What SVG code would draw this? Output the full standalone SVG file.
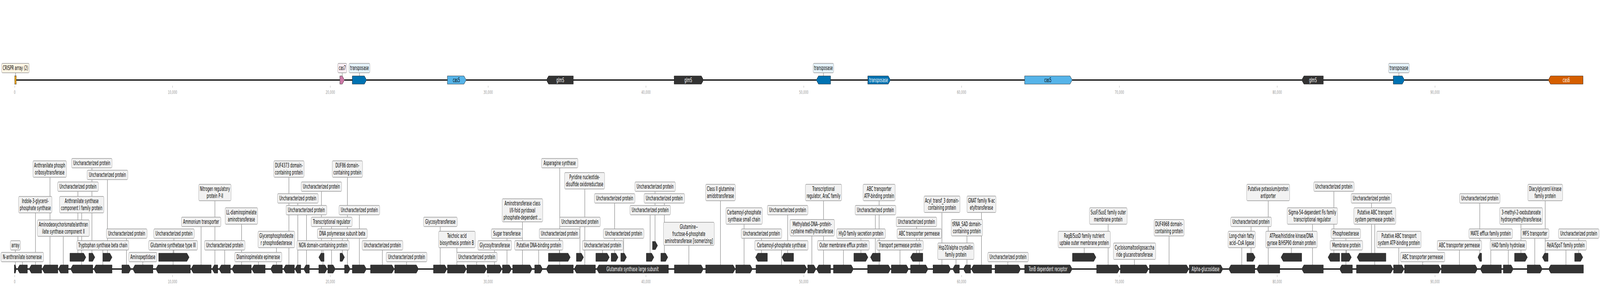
<svg xmlns="http://www.w3.org/2000/svg" width="7825" height="736" viewBox="0 0 7825 736" preserveAspectRatio="none" style="width:100vw;height:100vh;display:block">
<style>
.g{fill:#333333;stroke:#1a1a1a;stroke-width:1}
.b{fill:#f2f2f2;stroke:#999999;stroke-width:1.3}
.t{font-family:"DejaVu Sans",sans-serif;font-size:15px;fill:#000000;text-anchor:middle}
.w{fill:#ffffff}
.ln{stroke:#333333;stroke-width:0.9}
.bb{stroke:#000000;stroke-width:3}
.tk{stroke:#aaaaaa;stroke-width:1}
.tl{font-family:"DejaVu Sans",sans-serif;font-size:13px;fill:#999999;text-anchor:middle}
</style>
<rect x="0" y="0" width="7825" height="736" fill="#ffffff"/>
<g id="axes">
<line class="bb" x1="72" y1="204.5" x2="7742" y2="204.5"/>
<line class="bb" x1="70" y1="687.5" x2="7744" y2="687.5"/>
<g id="top-ticks">
<line class="tk" x1="72" y1="219" x2="72" y2="224"/><text class="tl" x="72" y="240">0</text>
<line class="tk" x1="843.8" y1="219" x2="843.8" y2="224"/><text class="tl" x="843.8" y="240">10,000</text>
<line class="tk" x1="1615.6" y1="219" x2="1615.6" y2="224"/><text class="tl" x="1615.6" y="240">20,000</text>
<line class="tk" x1="2387.4" y1="219" x2="2387.4" y2="224"/><text class="tl" x="2387.4" y="240">30,000</text>
<line class="tk" x1="3159.2" y1="219" x2="3159.2" y2="224"/><text class="tl" x="3159.2" y="240">40,000</text>
<line class="tk" x1="3931" y1="219" x2="3931" y2="224"/><text class="tl" x="3931" y="240">50,000</text>
<line class="tk" x1="4702.8" y1="219" x2="4702.8" y2="224"/><text class="tl" x="4702.8" y="240">60,000</text>
<line class="tk" x1="5474.6" y1="219" x2="5474.6" y2="224"/><text class="tl" x="5474.6" y="240">70,000</text>
<line class="tk" x1="6246.4" y1="219" x2="6246.4" y2="224"/><text class="tl" x="6246.4" y="240">80,000</text>
<line class="tk" x1="7018.2" y1="219" x2="7018.2" y2="224"/><text class="tl" x="7018.2" y="240">90,000</text>
</g>
<g id="bottom-ticks">
<line class="tk" x1="72" y1="703" x2="72" y2="708"/><text class="tl" x="72" y="724">0</text>
<line class="tk" x1="843.8" y1="703" x2="843.8" y2="708"/><text class="tl" x="843.8" y="724">10,000</text>
<line class="tk" x1="1615.6" y1="703" x2="1615.6" y2="708"/><text class="tl" x="1615.6" y="724">20,000</text>
<line class="tk" x1="2387.4" y1="703" x2="2387.4" y2="708"/><text class="tl" x="2387.4" y="724">30,000</text>
<line class="tk" x1="3159.2" y1="703" x2="3159.2" y2="708"/><text class="tl" x="3159.2" y="724">40,000</text>
<line class="tk" x1="3931" y1="703" x2="3931" y2="708"/><text class="tl" x="3931" y="724">50,000</text>
<line class="tk" x1="4702.8" y1="703" x2="4702.8" y2="708"/><text class="tl" x="4702.8" y="724">60,000</text>
<line class="tk" x1="5474.6" y1="703" x2="5474.6" y2="708"/><text class="tl" x="5474.6" y="724">70,000</text>
<line class="tk" x1="6246.4" y1="703" x2="6246.4" y2="708"/><text class="tl" x="6246.4" y="724">80,000</text>
<line class="tk" x1="7018.2" y1="703" x2="7018.2" y2="708"/><text class="tl" x="7018.2" y="724">90,000</text>
</g>
</g>
<g id="connectors">
<line class="ln" x1="76" y1="186" x2="76" y2="194"/>
<line class="ln" x1="1673.5" y1="186" x2="1673.5" y2="194"/>
<line class="ln" x1="1758" y1="186" x2="1758" y2="194"/>
<line class="ln" x1="4027" y1="186" x2="4027" y2="194"/>
<line class="ln" x1="6841.5" y1="186" x2="6841.5" y2="194"/>
<line class="ln" x1="75" y1="639" x2="75" y2="677"/>
<line class="ln" x1="109.5" y1="669" x2="109.5" y2="677"/>
<line class="ln" x1="173.5" y1="544" x2="173.5" y2="677"/>
<line class="ln" x1="244.5" y1="453" x2="244.5" y2="677"/>
<line class="ln" x1="309.5" y1="604" x2="309.5" y2="677"/>
<line class="ln" x1="399.5" y1="544" x2="399.5" y2="677"/>
<line class="ln" x1="503" y1="639" x2="503" y2="677"/>
<line class="ln" x1="618.5" y1="609" x2="618.5" y2="677"/>
<line class="ln" x1="698.5" y1="669" x2="698.5" y2="677"/>
<line class="ln" x1="846.5" y1="639" x2="846.5" y2="677"/>
<line class="ln" x1="983.5" y1="579" x2="983.5" y2="677"/>
<line class="ln" x1="1051" y1="513" x2="1051" y2="677"/>
<line class="ln" x1="1099" y1="639" x2="1099" y2="677"/>
<line class="ln" x1="1181.5" y1="573" x2="1181.5" y2="677"/>
<line class="ln" x1="1264" y1="669" x2="1264" y2="677"/>
<line class="ln" x1="1352" y1="633" x2="1352" y2="677"/>
<line class="ln" x1="1413" y1="453" x2="1413" y2="677"/>
<line class="ln" x1="1456.5" y1="519" x2="1456.5" y2="677"/>
<line class="ln" x1="1499" y1="549" x2="1499" y2="677"/>
<line class="ln" x1="1579.5" y1="639" x2="1579.5" y2="677"/>
<line class="ln" x1="1621.5" y1="579" x2="1621.5" y2="677"/>
<line class="ln" x1="1699" y1="453" x2="1699" y2="677"/>
<line class="ln" x1="1757.5" y1="549" x2="1757.5" y2="677"/>
<line class="ln" x1="1870" y1="639" x2="1870" y2="677"/>
<line class="ln" x1="1988.5" y1="669" x2="1988.5" y2="677"/>
<line class="ln" x1="2153" y1="579" x2="2153" y2="677"/>
<line class="ln" x1="2234.5" y1="633" x2="2234.5" y2="677"/>
<line class="ln" x1="2331.5" y1="669" x2="2331.5" y2="677"/>
<line class="ln" x1="2418.5" y1="639" x2="2418.5" y2="677"/>
<line class="ln" x1="2479.5" y1="609" x2="2479.5" y2="677"/>
<line class="ln" x1="2555" y1="567" x2="2555" y2="677"/>
<line class="ln" x1="2634.5" y1="639" x2="2634.5" y2="677"/>
<line class="ln" x1="2737.5" y1="429" x2="2737.5" y2="677"/>
<line class="ln" x1="2860" y1="483" x2="2860" y2="677"/>
<line class="ln" x1="3369" y1="627" x2="3369" y2="677"/>
<line class="ln" x1="3523.5" y1="513" x2="3523.5" y2="677"/>
<line class="ln" x1="3639" y1="573" x2="3639" y2="677"/>
<line class="ln" x1="3822" y1="639" x2="3822" y2="677"/>
<line class="ln" x1="3970.5" y1="603" x2="3970.5" y2="677"/>
<line class="ln" x1="4027.5" y1="513" x2="4027.5" y2="677"/>
<line class="ln" x1="4125" y1="639" x2="4125" y2="677"/>
<line class="ln" x1="4299.5" y1="513" x2="4299.5" y2="677"/>
<line class="ln" x1="4401.5" y1="639" x2="4401.5" y2="677"/>
<line class="ln" x1="4496" y1="609" x2="4496" y2="677"/>
<line class="ln" x1="4606.5" y1="543" x2="4606.5" y2="677"/>
<line class="ln" x1="4675.5" y1="663" x2="4675.5" y2="677"/>
<line class="ln" x1="4729" y1="603" x2="4729" y2="677"/>
<line class="ln" x1="4800" y1="543" x2="4800" y2="677"/>
<line class="ln" x1="4929" y1="669" x2="4929" y2="677"/>
<line class="ln" x1="5419.5" y1="573" x2="5419.5" y2="677"/>
<line class="ln" x1="5548" y1="663" x2="5548" y2="677"/>
<line class="ln" x1="5717.5" y1="603" x2="5717.5" y2="677"/>
<line class="ln" x1="6073" y1="633" x2="6073" y2="677"/>
<line class="ln" x1="6202.5" y1="513" x2="6202.5" y2="677"/>
<line class="ln" x1="6419" y1="573" x2="6419" y2="677"/>
<line class="ln" x1="6582.5" y1="609" x2="6582.5" y2="677"/>
<line class="ln" x1="6723.5" y1="573" x2="6723.5" y2="677"/>
<line class="ln" x1="6841" y1="633" x2="6841" y2="677"/>
<line class="ln" x1="6958" y1="669" x2="6958" y2="677"/>
<line class="ln" x1="7137.5" y1="639" x2="7137.5" y2="677"/>
<line class="ln" x1="7291" y1="609" x2="7291" y2="677"/>
<line class="ln" x1="7376.5" y1="639" x2="7376.5" y2="677"/>
<line class="ln" x1="7506" y1="609" x2="7506" y2="677"/>
<line class="ln" x1="7658.5" y1="639" x2="7658.5" y2="677"/>
<line class="ln" x1="381" y1="489" x2="381" y2="647"/>
<line class="ln" x1="449.5" y1="429" x2="449.5" y2="647"/>
<line class="ln" x1="525.5" y1="459" x2="525.5" y2="647"/>
<line class="ln" x1="850.5" y1="609" x2="850.5" y2="647"/>
<line class="ln" x1="1572" y1="489" x2="1572" y2="647"/>
<line class="ln" x1="1674" y1="609" x2="1674" y2="647"/>
<line class="ln" x1="2735.5" y1="609" x2="2735.5" y2="647"/>
<line class="ln" x1="2836.5" y1="579" x2="2836.5" y2="647"/>
<line class="ln" x1="2947" y1="639" x2="2947" y2="647"/>
<line class="ln" x1="3006" y1="519" x2="3006" y2="647"/>
<line class="ln" x1="3050" y1="609" x2="3050" y2="647"/>
<line class="ln" x1="3179.5" y1="549" x2="3179.5" y2="647"/>
<line class="ln" x1="3249" y1="519" x2="3249" y2="647"/>
<line class="ln" x1="3724" y1="609" x2="3724" y2="647"/>
<line class="ln" x1="3852.5" y1="549" x2="3852.5" y2="647"/>
<line class="ln" x1="4210.5" y1="609" x2="4210.5" y2="647"/>
<line class="ln" x1="4281" y1="549" x2="4281" y2="647"/>
<line class="ln" x1="4483" y1="579" x2="4483" y2="647"/>
<line class="ln" x1="5302.5" y1="633" x2="5302.5" y2="647"/>
<line class="ln" x1="6118.5" y1="579" x2="6118.5" y2="647"/>
<line class="ln" x1="6315.5" y1="633" x2="6315.5" y2="647"/>
<line class="ln" x1="6523.5" y1="489" x2="6523.5" y2="647"/>
<line class="ln" x1="6584.5" y1="639" x2="6584.5" y2="647"/>
<line class="ln" x1="6707.5" y1="519" x2="6707.5" y2="647"/>
<line class="ln" x1="7237" y1="519" x2="7237" y2="647"/>
<line class="ln" x1="7438.5" y1="573" x2="7438.5" y2="647"/>
<line class="ln" x1="7557" y1="513" x2="7557" y2="647"/>
<line class="ln" x1="7721" y1="609" x2="7721" y2="647"/>
<line class="ln" x1="3203.5" y1="489" x2="3203.5" y2="617"/>
</g>
<g id="top-track">
<g id="t-crispr"><rect x="72" y="194" width="8" height="21" fill="#E69F00" stroke="#333" stroke-width="1"/><rect x="8" y="162" width="135" height="24" rx="4" fill="#FFF6E5" stroke="#999" stroke-width="1.3"/><text class="t" x="75.5" y="179">CRISPR array (2)</text></g>
<g id="t-cas7"><polygon points="1662,194 1674,194 1685,204.5 1674,215 1662,215" fill="#CC79A7" stroke="#333"/><rect x="1652" y="162" width="44" height="24" rx="4" fill="#FAEEF4" stroke="#999" stroke-width="1.3"/><text class="t" x="1674" y="179">cas7</text></g>
<g id="t-transposase1"><polygon points="1723,194 1782,194 1793,204.5 1782,215 1723,215" fill="#0072B2" stroke="#1a1a1a"/><rect x="1707" y="162" width="102" height="24" rx="4" fill="#E6F3FB" stroke="#999" stroke-width="1.3"/><text class="t" x="1758" y="179">transposase</text></g>
<g id="t-cas5a"><polygon points="2188,194 2269,194 2280,204.5 2269,215 2188,215" fill="#56B4E9" stroke="#1a1a1a"/><text class="t" x="2232" y="210">cas5</text></g>
<g id="t-glmS1"><polygon class="g" points="2672,204.5 2683,194 2804,194 2804,215 2683,215"/><text class="t w" x="2740" y="210">glmS</text></g>
<g id="t-glmS2"><polygon class="g" points="3297,194 3430,194 3441,204.5 3430,215 3297,215"/><text class="t w" x="3366" y="210">glmS</text></g>
<g id="t-transposase2"><polygon points="3992,204.5 4003,194 4062,194 4062,215 4003,215" fill="#0072B2" stroke="#1a1a1a"/><rect x="3977" y="162" width="100" height="24" rx="4" fill="#E6F3FB" stroke="#999" stroke-width="1.3"/><text class="t" x="4027" y="179">transposase</text></g>
<g id="t-transposase3"><polygon points="4244,194 4344,194 4355,204.5 4344,215 4244,215" fill="#0072B2" stroke="#1a1a1a"/><text class="t w" x="4297" y="210">transposase</text></g>
<g id="t-cas5b"><polygon points="5011,194 5233,194 5244,204.5 5233,215 5011,215" fill="#56B4E9" stroke="#1a1a1a"/><text class="t" x="5125" y="210">cas5</text></g>
<g id="t-glmS3"><polygon class="g" points="6366,204.5 6377,194 6472,194 6472,215 6377,215"/><text class="t w" x="6421" y="210">glmS</text></g>
<g id="t-transposase4"><polygon points="6814,194 6858,194 6869,204.5 6858,215 6814,215" fill="#0072B2" stroke="#1a1a1a"/><rect x="6791" y="162" width="101" height="24" rx="4" fill="#E6F3FB" stroke="#999" stroke-width="1.3"/><text class="t" x="6841.5" y="179">transposase</text></g>
<g id="t-cas6"><polygon points="7572,204.5 7583,194 7742,194 7742,215 7583,215" fill="#D55E00" stroke="#1a1a1a"/><text class="t w" x="7660" y="210">cas6</text></g>
</g>
<g id="bottom-track">
<g id="b1"><polygon class="g" points="70,677 75,677 80,687.5 75,698 70,698"/><rect class="b" x="51" y="615" width="49" height="24" rx="4"/><text class="t" x="75.5" y="632">array</text></g>
<g id="b2"><polygon class="g" points="85,687.5 96,677 134,677 134,698 96,698"/><rect class="b" x="5" y="645" width="208" height="24" rx="4"/><text class="t" x="109" y="662">N-anthranilate isomerase</text></g>
<g id="b3"><polygon class="g" points="142,687.5 153,677 204,677 204,698 153,698"/><rect class="b" x="91" y="502" width="163" height="42" rx="4"/><text class="t" x="172.5" y="519">Indole-3-glycerol-</text><text class="t" x="172.5" y="537">phosphate synthase</text></g>
<g id="b4"><polygon class="g" points="206,687.5 217,677 283,677 283,698 217,698"/><rect class="b" x="161" y="411" width="164" height="42" rx="4"/><text class="t" x="243" y="428">Anthranilate phosph</text><text class="t" x="243" y="446">oribosyltransferase</text></g>
<g id="b5"><polygon class="g" points="285,687.5 296,677 334,677 334,698 296,698"/><rect class="b" x="183" y="562" width="254" height="42" rx="4"/><text class="t" x="310" y="579">Aminodeoxychorismate/anthran</text><text class="t" x="310" y="597">ilate synthase component II</text></g>
<g id="b6"><polygon class="g" points="345,687.5 356,677 454,677 454,698 356,698"/><rect class="b" x="291" y="502" width="217" height="42" rx="4"/><text class="t" x="399.5" y="519">Anthranilate synthase</text><text class="t" x="399.5" y="537">component I family protein</text></g>
<g id="b7"><polygon class="g" points="458,687.5 469,677 548,677 548,698 469,698"/><rect class="b" x="376" y="615" width="254" height="24" rx="4"/><text class="t" x="503" y="632">Tryptophan synthase beta chain</text></g>
<g id="b8"><polygon class="g" points="596,677 630,677 641,687.5 630,698 596,698"/><rect class="b" x="520" y="585" width="199" height="24" rx="4"/><text class="t" x="619.5" y="602">Uncharacterized protein</text></g>
<g id="b9"><polygon class="g" points="649,687.5 660,677 748,677 748,698 660,698"/><rect class="b" x="630" y="645" width="137" height="24" rx="4"/><text class="t" x="698.5" y="662">Aminopeptidase</text></g>
<g id="b10"><polygon class="g" points="762,687.5 773,677 931,677 931,698 773,698"/><rect class="b" x="727" y="615" width="239" height="24" rx="4"/><text class="t" x="846.5" y="632">Glutamine synthetase type III</text></g>
<g id="b11"><polygon class="g" points="934,687.5 945,677 1033,677 1033,698 945,698"/><rect class="b" x="887" y="555" width="193" height="24" rx="4"/><text class="t" x="983.5" y="572">Ammonium transporter</text></g>
<g id="b12"><polygon class="g" points="1037,687.5 1048,677 1065,677 1065,698 1048,698"/><rect class="b" x="972" y="471" width="158" height="42" rx="4"/><text class="t" x="1051" y="488">Nitrogen regulatory</text><text class="t" x="1051" y="506">protein P-II</text></g>
<g id="b13"><polygon class="g" points="1071,687.5 1082,677 1127,677 1127,698 1082,698"/><rect class="b" x="1000" y="615" width="198" height="24" rx="4"/><text class="t" x="1099" y="632">Uncharacterized protein</text></g>
<g id="b14"><polygon class="g" points="1134,687.5 1145,677 1229,677 1229,698 1145,698"/><rect class="b" x="1101" y="531" width="159" height="42" rx="4"/><text class="t" x="1180.5" y="548">LL-diaminopimelate</text><text class="t" x="1180.5" y="566">aminotransferase</text></g>
<g id="b15"><polygon class="g" points="1231,687.5 1242,677 1297,677 1297,698 1242,698"/><rect class="b" x="1148" y="645" width="230" height="24" rx="4"/><text class="t" x="1263" y="662">Diaminopimelate epimerase</text></g>
<g id="b16"><polygon class="g" points="1323,687.5 1334,677 1381,677 1381,698 1334,698"/><rect class="b" x="1262" y="591" width="179" height="42" rx="4"/><text class="t" x="1351.5" y="608">Glycerophosphodieste</text><text class="t" x="1351.5" y="626">r phosphodiesterase</text></g>
<g id="b17"><polygon class="g" points="1386,687.5 1397,677 1440,677 1440,698 1397,698"/><rect class="b" x="1339" y="411" width="148" height="42" rx="4"/><text class="t" x="1413" y="428">DUF4373 domain-</text><text class="t" x="1413" y="446">containing protein</text></g>
<g id="b18"><polygon class="g" points="1442,687.5 1453,677 1471,677 1471,698 1453,698"/><rect class="b" x="1357" y="495" width="199" height="24" rx="4"/><text class="t" x="1456.5" y="512">Uncharacterized protein</text></g>
<g id="b19"><polygon class="g" points="1485,687.5 1496,677 1513,677 1513,698 1496,698"/><rect class="b" x="1399" y="525" width="199" height="24" rx="4"/><text class="t" x="1498.5" y="542">Uncharacterized protein</text></g>
<g id="b20"><polygon class="g" points="1559,677 1589,677 1600,687.5 1589,698 1559,698"/><rect class="b" x="1452" y="615" width="256" height="24" rx="4"/><text class="t" x="1580" y="632">NGN domain-containing protein</text></g>
<g id="b21"><polygon class="g" points="1603,677 1629,677 1640,687.5 1629,698 1603,698"/><rect class="b" x="1522" y="555" width="200" height="24" rx="4"/><text class="t" x="1622" y="572">Transcriptional regulator</text></g>
<g id="b22"><polygon class="g" points="1685,677 1702,677 1713,687.5 1702,698 1685,698"/><rect class="b" x="1625" y="411" width="148" height="42" rx="4"/><text class="t" x="1699" y="428">DUF86 domain-</text><text class="t" x="1699" y="446">containing protein</text></g>
<g id="b23"><polygon class="g" points="1723,677 1781,677 1792,687.5 1781,698 1723,698"/><rect class="b" x="1658" y="525" width="199" height="24" rx="4"/><text class="t" x="1757.5" y="542">Uncharacterized protein</text></g>
<g id="b24"><polygon class="g" points="1812,677 1917,677 1928,687.5 1917,698 1812,698"/><rect class="b" x="1771" y="615" width="199" height="24" rx="4"/><text class="t" x="1870.5" y="632">Uncharacterized protein</text></g>
<g id="b25"><polygon class="g" points="1930,677 2036,677 2047,687.5 2036,698 1930,698"/><rect class="b" x="1889" y="645" width="199" height="24" rx="4"/><text class="t" x="1988.5" y="662">Uncharacterized protein</text></g>
<g id="b26"><polygon class="g" points="2120,677 2175,677 2186,687.5 2175,698 2120,698"/><rect class="b" x="2071" y="555" width="165" height="24" rx="4"/><text class="t" x="2153.5" y="572">Glycosyltransferase</text></g>
<g id="b27"><polygon class="g" points="2188,677 2270,677 2281,687.5 2270,698 2188,698"/><rect class="b" x="2145" y="591" width="179" height="42" rx="4"/><text class="t" x="2234.5" y="608">Teichoic acid</text><text class="t" x="2234.5" y="626">biosynthesis protein B</text></g>
<g id="b28"><polygon class="g" points="2283,677 2369,677 2380,687.5 2369,698 2283,698"/><rect class="b" x="2233" y="645" width="198" height="24" rx="4"/><text class="t" x="2332" y="662">Uncharacterized protein</text></g>
<g id="b29"><polygon class="g" points="2382,677 2444,677 2455,687.5 2444,698 2382,698"/><rect class="b" x="2337" y="615" width="165" height="24" rx="4"/><text class="t" x="2419.5" y="632">Glycosyltransferase</text></g>
<g id="b30"><polygon class="g" points="2457,677 2491,677 2502,687.5 2491,698 2457,698"/><rect class="b" x="2403" y="585" width="152" height="24" rx="4"/><text class="t" x="2479" y="602">Sugar transferase</text></g>
<g id="b31"><polygon class="g" points="2507,677 2592,677 2603,687.5 2592,698 2507,698"/><rect class="b" x="2456" y="508" width="198" height="59" rx="4"/><text class="t" x="2555" y="525">Aminotransferase class</text><text class="t" x="2555" y="543">I/II-fold pyridoxal</text><text class="t" x="2555" y="561">phosphate-dependent ...</text></g>
<g id="b32"><polygon class="g" points="2615,677 2643,677 2654,687.5 2643,698 2615,698"/><rect class="b" x="2517" y="615" width="236" height="24" rx="4"/><text class="t" x="2635" y="632">Putative DNA-binding protein</text></g>
<g id="b33"><polygon class="g" points="2671,687.5 2682,677 2804,677 2804,698 2682,698"/><rect class="b" x="2648" y="405" width="178" height="24" rx="4"/><text class="t" x="2737" y="422">Asparagine synthase</text></g>
<g id="b34"><polygon class="g" points="2808,687.5 2819,677 2912,677 2912,698 2819,698"/><rect class="b" x="2761" y="441" width="196" height="42" rx="4"/><text class="t" x="2859" y="458">Pyridine nucleotide-</text><text class="t" x="2859" y="476">disulfide oxidoreductase</text></g>
<g id="b35"><polygon class="g" points="2918,687.5 2929,677 3269,677 3269,698 2929,698"/><text class="t w" x="3093.5" y="693">Glutamate synthase large subunit</text></g>
<g id="b36"><polygon class="g" points="3298,677 3429,677 3440,687.5 3429,698 3298,698"/><rect class="b" x="3245" y="568" width="248" height="59" rx="4"/><text class="t" x="3369" y="585">Glutamine--</text><text class="t" x="3369" y="603">fructose-6-phosphate</text><text class="t" x="3369" y="621">aminotransferase [isomerizing]</text></g>
<g id="b37"><polygon class="g" points="3451,677 3585,677 3596,687.5 3585,698 3451,698"/><rect class="b" x="3451" y="471" width="145" height="42" rx="4"/><text class="t" x="3523.5" y="488">Class II glutamine</text><text class="t" x="3523.5" y="506">amidotransferase</text></g>
<g id="b38"><polygon class="g" points="3598,677 3669,677 3680,687.5 3669,698 3598,698"/><rect class="b" x="3550" y="531" width="178" height="42" rx="4"/><text class="t" x="3639" y="548">Carbamoyl-phosphate</text><text class="t" x="3639" y="566">synthase small chain</text></g>
<g id="b39"><polygon class="g" points="3697,677 3936,677 3947,687.5 3936,698 3697,698"/><rect class="b" x="3691" y="615" width="261" height="24" rx="4"/><text class="t" x="3821.5" y="632">Carbamoyl-phosphate synthase</text></g>
<g id="b40"><polygon class="g" points="3950,677 3980,677 3991,687.5 3980,698 3950,698"/><rect class="b" x="3863" y="561" width="218" height="42" rx="4"/><text class="t" x="3972" y="578">Methylated-DNA--protein-</text><text class="t" x="3972" y="596">cysteine methyltransferase</text></g>
<g id="b41"><polygon class="g" points="3993,687.5 4004,677 4062,677 4062,698 4004,698"/><rect class="b" x="3939" y="471" width="177" height="42" rx="4"/><text class="t" x="4027.5" y="488">Transcriptional</text><text class="t" x="4027.5" y="506">regulator, AraC family</text></g>
<g id="b42"><polygon class="g" points="4076,677 4163,677 4174,687.5 4163,698 4076,698"/><rect class="b" x="3998" y="615" width="253" height="24" rx="4"/><text class="t" x="4124.5" y="632">Outer membrane efflux protein</text></g>
<g id="b43"><polygon class="g" points="4243,677 4345,677 4356,687.5 4345,698 4243,698"/><rect class="b" x="4221" y="471" width="157" height="42" rx="4"/><text class="t" x="4299.5" y="488">ABC transporter</text><text class="t" x="4299.5" y="506">ATP-binding protein</text></g>
<g id="b44"><polygon class="g" points="4359,677 4433,677 4444,687.5 4433,698 4359,698"/><rect class="b" x="4288" y="615" width="227" height="24" rx="4"/><text class="t" x="4401.5" y="632">Transport permease protein</text></g>
<g id="b45"><polygon class="g" points="4453,677 4528,677 4539,687.5 4528,698 4453,698"/><rect class="b" x="4387" y="585" width="218" height="24" rx="4"/><text class="t" x="4496" y="602">ABC transporter permease</text></g>
<g id="b46"><polygon class="g" points="4563,677 4639,677 4650,687.5 4639,698 4563,698"/><rect class="b" x="4519" y="501" width="176" height="42" rx="4"/><text class="t" x="4607" y="518">Acyl_transf_3 domain-</text><text class="t" x="4607" y="536">containing protein</text></g>
<g id="b47"><polygon class="g" points="4659,687.5 4670,677 4692,677 4692,698 4670,698"/><rect class="b" x="4586" y="621" width="177" height="42" rx="4"/><text class="t" x="4674.5" y="638">Hsp20/alpha crystallin</text><text class="t" x="4674.5" y="656">family protein</text></g>
<g id="b48"><polygon class="g" points="4711,687.5 4722,677 4747,677 4747,698 4722,698"/><rect class="b" x="4652" y="561" width="153" height="42" rx="4"/><text class="t" x="4728.5" y="578">tRNA_SAD domain-</text><text class="t" x="4728.5" y="596">containing protein</text></g>
<g id="b49"><polygon class="g" points="4750,687.5 4761,677 4850,677 4850,698 4761,698"/><rect class="b" x="4729" y="501" width="142" height="42" rx="4"/><text class="t" x="4800" y="518">GNAT family N-ac</text><text class="t" x="4800" y="536">etyltransferase</text></g>
<g id="b50"><polygon class="g" points="4866,677 4981,677 4992,687.5 4981,698 4866,698"/><rect class="b" x="4831" y="645" width="198" height="24" rx="4"/><text class="t" x="4930" y="662">Uncharacterized protein</text></g>
<g id="b51"><polygon class="g" points="5011,677 5233,677 5244,687.5 5233,698 5011,698"/><text class="t w" x="5125.5" y="693">TonB dependent receptor</text></g>
<g id="b52"><polygon class="g" points="5363,677 5465,677 5476,687.5 5465,698 5363,698"/><rect class="b" x="5328" y="531" width="184" height="42" rx="4"/><text class="t" x="5420" y="548">SusF/SusE family outer</text><text class="t" x="5420" y="566">membrane protein</text></g>
<g id="b53"><polygon class="g" points="5479,677 5606,677 5617,687.5 5606,698 5479,698"/><rect class="b" x="5445" y="621" width="207" height="42" rx="4"/><text class="t" x="5548.5" y="638">Cycloisomaltooligosaccha</text><text class="t" x="5548.5" y="656">ride glucanotransferase</text></g>
<g id="b54"><polygon class="g" points="5621,677 5803,677 5814,687.5 5803,698 5621,698"/><rect class="b" x="5644" y="561" width="147" height="42" rx="4"/><text class="t" x="5717.5" y="578">DUF4968 domain-</text><text class="t" x="5717.5" y="596">containing protein</text></g>
<g id="b55"><polygon class="g" points="5816,677 5970,677 5981,687.5 5970,698 5816,698"/><text class="t w" x="5896" y="693">Alpha-glucosidase</text></g>
<g id="b56"><polygon class="g" points="6009,687.5 6020,677 6137,677 6137,698 6020,698"/><rect class="b" x="6006" y="591" width="133" height="42" rx="4"/><text class="t" x="6072.5" y="608">Long-chain fatty</text><text class="t" x="6072.5" y="626">acid--CoA ligase</text></g>
<g id="b57"><polygon class="g" points="6146,687.5 6157,677 6259,677 6259,698 6157,698"/><rect class="b" x="6097" y="471" width="210" height="42" rx="4"/><text class="t" x="6202" y="488">Putative potassium/proton</text><text class="t" x="6202" y="506">antiporter</text></g>
<g id="b58"><polygon class="g" points="6366,687.5 6377,677 6472,677 6472,698 6377,698"/><rect class="b" x="6295" y="531" width="246" height="42" rx="4"/><text class="t" x="6418" y="548">Sigma-54-dependent Fis family</text><text class="t" x="6418" y="566">transcriptional regulator</text></g>
<g id="b59"><polygon class="g" points="6551,687.5 6562,677 6614,677 6614,698 6562,698"/><rect class="b" x="6510" y="585" width="144" height="24" rx="4"/><text class="t" x="6582" y="602">Phosphoesterase</text></g>
<g id="b60"><polygon class="g" points="6634,677 6802,677 6813,687.5 6802,698 6634,698"/><rect class="b" x="6621" y="531" width="205" height="42" rx="4"/><text class="t" x="6723.5" y="548">Putative ABC transport</text><text class="t" x="6723.5" y="566">system permease protein</text></g>
<g id="b61"><polygon class="g" points="6815,677 6856,677 6867,687.5 6856,698 6815,698"/><rect class="b" x="6733" y="591" width="217" height="42" rx="4"/><text class="t" x="6841.5" y="608">Putative ABC transport</text><text class="t" x="6841.5" y="626">system ATP-binding protein</text></g>
<g id="b62"><polygon class="g" points="6869,677 7036,677 7047,687.5 7036,698 6869,698"/><rect class="b" x="6849" y="645" width="217" height="24" rx="4"/><text class="t" x="6957.5" y="662">ABC transporter permease</text></g>
<g id="b63"><polygon class="g" points="7049,677 7215,677 7226,687.5 7215,698 7049,698"/><rect class="b" x="7029" y="615" width="217" height="24" rx="4"/><text class="t" x="7137.5" y="632">ABC transporter permease</text></g>
<g id="b64"><polygon class="g" points="7239,687.5 7250,677 7343,677 7343,698 7250,698"/><rect class="b" x="7184" y="585" width="213" height="24" rx="4"/><text class="t" x="7290.5" y="602">MATE efflux family protein</text></g>
<g id="b65"><polygon class="g" points="7352,677 7390,677 7401,687.5 7390,698 7352,698"/><rect class="b" x="7288" y="615" width="177" height="24" rx="4"/><text class="t" x="7376.5" y="632">HAD family hydrolase</text></g>
<g id="b66"><polygon class="g" points="7469,677 7532,677 7543,687.5 7532,698 7469,698"/><rect class="b" x="7439" y="585" width="136" height="24" rx="4"/><text class="t" x="7507" y="602">MFS transporter</text></g>
<g id="b67"><polygon class="g" points="7573,687.5 7584,677 7744,677 7744,698 7584,698"/><rect class="b" x="7557" y="615" width="202" height="24" rx="4"/><text class="t" x="7658" y="632">RelA/SpoT family protein</text></g>
<g id="e1"><polygon class="g" points="342,647 409,647 420,657.5 409,668 342,668"/><rect class="b" x="282" y="465" width="199" height="24" rx="4"/><text class="t" x="381.5" y="482">Uncharacterized protein</text></g>
<g id="e2"><polygon class="g" points="435,647 453,647 464,657.5 453,668 435,668"/><rect class="b" x="350" y="405" width="198" height="24" rx="4"/><text class="t" x="449" y="422">Uncharacterized protein</text></g>
<g id="e3"><polygon class="g" points="503,647 537,647 548,657.5 537,668 503,668"/><rect class="b" x="426" y="435" width="199" height="24" rx="4"/><text class="t" x="525.5" y="452">Uncharacterized protein</text></g>
<g id="e4"><polygon class="g" points="776,647 914,647 925,657.5 914,668 776,668"/><rect class="b" x="752" y="585" width="198" height="24" rx="4"/><text class="t" x="851" y="602">Uncharacterized protein</text></g>
<g id="e5"><polygon class="g" points="1559,657.5 1570,647 1585,647 1585,668 1570,668"/><rect class="b" x="1473" y="465" width="198" height="24" rx="4"/><text class="t" x="1572" y="482">Uncharacterized protein</text></g>
<g id="e6"><polygon class="g" points="1663,647 1674,647 1685,657.5 1674,668 1663,668"/><rect class="b" x="1552" y="585" width="244" height="24" rx="4"/><text class="t" x="1674" y="602">DNA polymerase subunit beta</text></g>
<g id="e7"><polygon class="g" points="2682,647 2778,647 2789,657.5 2778,668 2682,668"/><rect class="b" x="2637" y="585" width="198" height="24" rx="4"/><text class="t" x="2736" y="602">Uncharacterized protein</text></g>
<g id="e8"><polygon class="g" points="2819,647 2843,647 2854,657.5 2843,668 2819,668"/><rect class="b" x="2737" y="555" width="199" height="24" rx="4"/><text class="t" x="2836.5" y="572">Uncharacterized protein</text></g>
<g id="e9"><polygon class="g" points="2914,647 2969,647 2980,657.5 2969,668 2914,668"/><rect class="b" x="2848" y="615" width="199" height="24" rx="4"/><text class="t" x="2947.5" y="632">Uncharacterized protein</text></g>
<g id="e10"><polygon class="g" points="2989,647 3012,647 3023,657.5 3012,668 2989,668"/><rect class="b" x="2907" y="495" width="198" height="24" rx="4"/><text class="t" x="3006" y="512">Uncharacterized protein</text></g>
<g id="e11"><polygon class="g" points="3036,647 3053,647 3064,657.5 3053,668 3036,668"/><rect class="b" x="2951" y="585" width="198" height="24" rx="4"/><text class="t" x="3050" y="602">Uncharacterized protein</text></g>
<g id="e12"><polygon class="g" points="3161,647 3187,647 3198,657.5 3187,668 3161,668"/><rect class="b" x="3081" y="525" width="198" height="24" rx="4"/><text class="t" x="3180" y="542">Uncharacterized protein</text></g>
<g id="e13"><polygon class="g" points="3232,647 3255,647 3266,657.5 3255,668 3232,668"/><rect class="b" x="3150" y="495" width="198" height="24" rx="4"/><text class="t" x="3249" y="512">Uncharacterized protein</text></g>
<g id="e14"><polygon class="g" points="3191,617 3205,617 3216,627.5 3205,638 3191,638"/><rect class="b" x="3105" y="465" width="198" height="24" rx="4"/><text class="t" x="3204" y="482">Uncharacterized protein</text></g>
<g id="e15"><polygon class="g" points="3695,657.5 3706,647 3753,647 3753,668 3706,668"/><rect class="b" x="3625" y="585" width="198" height="24" rx="4"/><text class="t" x="3724" y="602">Uncharacterized protein</text></g>
<g id="e16"><polygon class="g" points="3824,657.5 3835,647 3881,647 3881,668 3835,668"/><rect class="b" x="3753" y="525" width="198" height="24" rx="4"/><text class="t" x="3852" y="542">Uncharacterized protein</text></g>
<g id="e17"><polygon class="g" points="4176,647 4234,647 4245,657.5 4234,668 4176,668"/><rect class="b" x="4092" y="585" width="238" height="24" rx="4"/><text class="t" x="4211" y="602">HlyD family secretion protein</text></g>
<g id="e18"><polygon class="g" points="4257,657.5 4268,647 4305,647 4305,668 4268,668"/><rect class="b" x="4182" y="525" width="199" height="24" rx="4"/><text class="t" x="4281.5" y="542">Uncharacterized protein</text></g>
<g id="e19"><polygon class="g" points="4453,657.5 4464,647 4513,647 4513,668 4464,668"/><rect class="b" x="4383" y="555" width="198" height="24" rx="4"/><text class="t" x="4482" y="572">Uncharacterized protein</text></g>
<g id="e20"><polygon class="g" points="5245,647 5349,647 5360,657.5 5349,668 5245,668"/><rect class="b" x="5175" y="591" width="255" height="42" rx="4"/><text class="t" x="5302.5" y="608">RagB/SusD family nutrient</text><text class="t" x="5302.5" y="626">uptake outer membrane protein</text></g>
<g id="e21"><polygon class="g" points="6098,647 6128,647 6139,657.5 6128,668 6098,668"/><rect class="b" x="6019" y="555" width="199" height="24" rx="4"/><text class="t" x="6118.5" y="572">Uncharacterized protein</text></g>
<g id="e22"><polygon class="g" points="6265,657.5 6276,647 6366,647 6366,668 6276,668"/><rect class="b" x="6190" y="591" width="252" height="42" rx="4"/><text class="t" x="6316" y="608">ATPase/histidine kinase/DNA</text><text class="t" x="6316" y="626">gyrase B/HSP90 domain protein</text></g>
<g id="e23"><polygon class="g" points="6495,657.5 6506,647 6552,647 6552,668 6506,668"/><rect class="b" x="6425" y="465" width="197" height="24" rx="4"/><text class="t" x="6523.5" y="482">Uncharacterized protein</text></g>
<g id="e24"><polygon class="g" points="6560,647 6598,647 6609,657.5 6598,668 6560,668"/><rect class="b" x="6505" y="615" width="159" height="24" rx="4"/><text class="t" x="6584.5" y="632">Membrane protein</text></g>
<g id="e25"><polygon class="g" points="6637,657.5 6648,647 6778,647 6778,668 6648,668"/><rect class="b" x="6608" y="495" width="198" height="24" rx="4"/><text class="t" x="6707" y="512">Uncharacterized protein</text></g>
<g id="e26"><polygon class="g" points="7228,657.5 7237,647 7246,647 7246,668 7237,668"/><rect class="b" x="7138" y="495" width="198" height="24" rx="4"/><text class="t" x="7237" y="512">Uncharacterized protein</text></g>
<g id="e27"><polygon class="g" points="7407,647 7459,647 7470,657.5 7459,668 7407,668"/><rect class="b" x="7334" y="531" width="210" height="42" rx="4"/><text class="t" x="7439" y="548">3-methyl-2-oxobutanoate</text><text class="t" x="7439" y="566">hydroxymethyltransferase</text></g>
<g id="e28"><polygon class="g" points="7543,657.5 7554,647 7571,647 7571,668 7554,668"/><rect class="b" x="7472" y="471" width="170" height="42" rx="4"/><text class="t" x="7557" y="488">Diacylglycerol kinase</text><text class="t" x="7557" y="506">family protein</text></g>
<g id="e29"><polygon class="g" points="7701,647 7730,647 7741,657.5 7730,668 7701,668"/><rect class="b" x="7622" y="585" width="198" height="24" rx="4"/><text class="t" x="7721" y="602">Uncharacterized protein</text></g>
</g>
</svg>
